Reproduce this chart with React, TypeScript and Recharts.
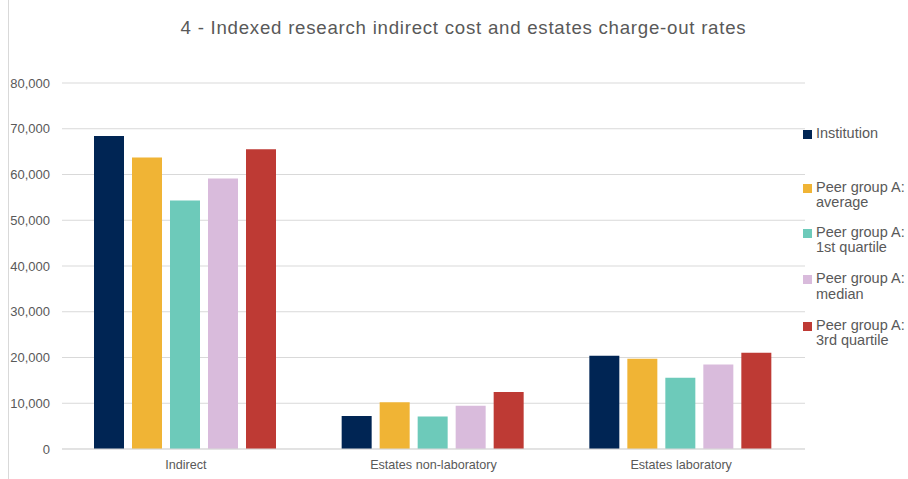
import { Bar, BarChart, CartesianGrid, XAxis, YAxis } from 'recharts';

const categories = ['Indirect', 'Estates non-laboratory', 'Estates laboratory'];

const institution = [68400, 7200, 20400];
const peerAverage = [63700, 10200, 19750];
const peerFirstQuartile = [54300, 7100, 15600];
const peerMedian = [59100, 9450, 18450];
const peerThirdQuartile = [65500, 12450, 21050];

const yTicks = [0, 10000, 20000, 30000, 40000, 50000, 60000, 70000, 80000];

const series = [
  { key: 'institution', name: 'Institution', values: institution, color: '#002554' },
  { key: 'average', name: 'Peer group A: average', values: peerAverage, color: '#F0B435' },
  { key: 'q1', name: 'Peer group A: 1st quartile', values: peerFirstQuartile, color: '#6DCABA' },
  { key: 'median', name: 'Peer group A: median', values: peerMedian, color: '#D9BBDC' },
  { key: 'q3', name: 'Peer group A: 3rd quartile', values: peerThirdQuartile, color: '#BE3A34' },
];

const data = categories.map((name, i) => {
  const row: Record<string, string | number> = { name };
  series.forEach((s) => {
    row[s.key] = s.values[i];
  });
  return row;
});

const textColor = '#595959';
const fontFamily = '"Liberation Sans", Arial, sans-serif';

// legend entry tops (single-line Institution entry sits a bit higher)
const legendTops = [126, 179.5, 224.5, 271, 317.5];

const formatTick = (v: number) => v.toLocaleString('en-US');

export default function App() {
  return (
    <div style={{ position: 'absolute', left: 0, top: 0, width: 908, height: 479, background: '#fff', fontFamily }}>
      <div style={{ position: 'absolute', left: 8, top: 0, width: 0, height: 479, borderLeft: '1px solid #d9d9d9' }} />
      <div
        style={{
          position: 'absolute',
          left: 0,
          top: 17,
          width: 927,
          textAlign: 'center',
          fontSize: 18.67,
          letterSpacing: 0.75,
          color: textColor,
        }}
      >
        4 - Indexed research indirect cost and estates charge-out rates
      </div>
      <BarChart
        width={908}
        height={479}
        data={data}
        margin={{ top: 83, right: 103, bottom: 0, left: 0 }}
        barCategoryGap={32}
        barGap={8}
      >
        <CartesianGrid vertical={false} stroke="#d9d9d9" />
        <XAxis
          dataKey="name"
          height={30}
          axisLine={{ stroke: '#d9d9d9' }}
          tickLine={false}
          tickMargin={5}
          tick={{ fill: textColor, fontSize: 12.6, fontFamily }}
        />
        <YAxis
          width={62}
          domain={[0, 80000]}
          ticks={yTicks}
          axisLine={false}
          tickLine={false}
          tickMargin={6}
          tickFormatter={formatTick}
          tick={{ fill: textColor, fontSize: 13, fontFamily }}
        />
        {series.map((s) => (
          <Bar key={s.key} dataKey={s.key} name={s.name} fill={s.color} isAnimationActive={false} />
        ))}
      </BarChart>
      {series.map((s, i) => {
        const [first, ...rest] = s.name.split(': ');
        const label = rest.length ? [first + ':', rest.join(': ')] : [first];
        return (
          <div
            key={s.key}
            style={{
              position: 'absolute',
              left: 803,
              top: legendTops[i],
              width: 105,
              display: 'flex',
              alignItems: 'flex-start',
              fontSize: 14.5,
              lineHeight: '15.5px',
              color: textColor,
            }}
          >
            <span style={{ display: 'inline-block', width: 9, height: 9, background: s.color, marginTop: 4, marginRight: 4, flex: 'none' }} />
            <span>
              {label.map((line) => (
                <div key={line} style={{ whiteSpace: 'nowrap' }}>{line}</div>
              ))}
            </span>
          </div>
        );
      })}
    </div>
  );
}
